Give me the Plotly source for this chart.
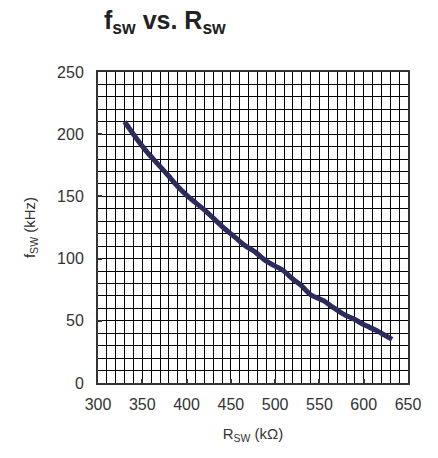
import plotly.graph_objects as go

r_sw = [330, 343, 355, 365, 379, 390, 400, 410, 422, 440, 455, 465, 478, 488,
        500, 508, 521, 530, 540, 555, 565, 578, 590, 600, 615, 632]
f_sw = [210, 197, 186, 178, 167, 158, 151, 145, 138, 126, 117, 111, 105, 99,
        94, 91, 83, 78, 71, 66, 61, 55, 51, 47, 42, 35]

x_ticks = [300, 350, 400, 450, 500, 550, 600, 650]
y_ticks = [0, 50, 100, 150, 200, 250]

font_family = "Liberation Sans, Arial, sans-serif"

fig = go.Figure()
fig.add_trace(go.Scatter(
    x=r_sw, y=f_sw, mode="lines",
    line=dict(color="#2B2C5C", width=5, shape="spline", smoothing=0.6),
    showlegend=False, hoverinfo="skip",
))

axis_common = dict(
    showline=True, linecolor="#333333", linewidth=2, mirror=True,
    showgrid=True, gridcolor="#000000", gridwidth=1,
    ticks="inside", ticklen=4, tickwidth=2, tickcolor="#333333",
    zeroline=False,
    tickfont=dict(family=font_family, size=16, color="#333333"),
)

fig.update_xaxes(
    range=[300, 650], tickvals=x_ticks,
    minor=dict(dtick=10, tick0=300, showgrid=True, gridcolor="#000000", gridwidth=1, ticks=""),
    title=dict(text="R<sub>SW</sub> (kΩ)", font=dict(family=font_family, size=15, color="#333333"),
               standoff=16),
    ticklabelstandoff=6,
    **axis_common,
)
fig.update_yaxes(
    range=[0, 250], tickvals=y_ticks,
    minor=dict(dtick=10, tick0=0, showgrid=True, gridcolor="#000000", gridwidth=1, ticks=""),
    title=dict(text="f<sub>SW</sub> (kHz)", font=dict(family=font_family, size=15, color="#333333"),
               standoff=18),
    ticklabelstandoff=9,
    **axis_common,
)

fig.add_annotation(
    text="<b>f<sub>sw</sub> vs. R<sub>sw</sub></b>",
    xref="paper", yref="paper", x=(164 - 97) / 310, y=1.0, yshift=50,
    xanchor="center", yanchor="middle", showarrow=False,
    font=dict(family=font_family, size=25, color="#222222"),
)

fig.update_layout(
    width=438, height=458,
    margin=dict(l=90, r=38, t=64, b=83),
    paper_bgcolor="white", plot_bgcolor="white",
)

fig.write_html("out.html")
